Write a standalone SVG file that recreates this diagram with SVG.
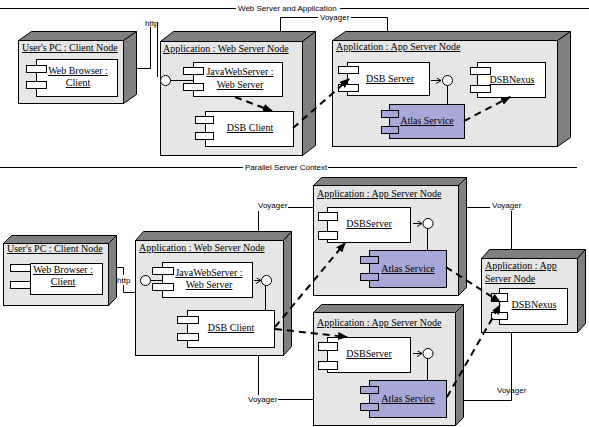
<svg xmlns="http://www.w3.org/2000/svg" width="589" height="427" viewBox="0 0 589 427">
<style>
.face{fill:#e6e6e6;stroke:#000;stroke-width:1}
.dk{fill:#808080;stroke:#000;stroke-width:1}
.cmp{fill:#fff;stroke:#000;stroke-width:1}
.atl{fill:#a8a8d8;stroke:#000;stroke-width:1}
.lbl{font-family:"Liberation Serif","Times New Roman",serif;font-size:10px;fill:#000;text-decoration:underline}
.sm{font-family:"Liberation Sans",Arial,sans-serif;font-size:8px;fill:#000}
.ln{fill:none;stroke:#000;stroke-width:1}
.dash{fill:none;stroke:#000;stroke-width:2;stroke-dasharray:7 5;marker-end:url(#ah)}
.dep{fill:none;stroke:#000;stroke-width:1;marker-end:url(#sa)}
.ifc{fill:#fff;stroke:#000;stroke-width:1}
</style>
<defs>
<marker id="ah" viewBox="0 0 10 8" refX="9" refY="4" markerWidth="10" markerHeight="8" markerUnits="userSpaceOnUse" orient="auto"><path d="M0,0 L10,4 L0,8 Z" fill="#000"/></marker>
<marker id="sa" viewBox="0 0 6 6" refX="5" refY="3" markerWidth="6" markerHeight="6" markerUnits="userSpaceOnUse" orient="auto"><path d="M0,0 L5,3 L0,6" fill="none" stroke="#000" stroke-width="1"/></marker>
</defs>
<rect width="589" height="427" fill="#fff"/>

<g id="frames">
<line class="ln" x1="0" y1="8.5" x2="236" y2="8.5"/>
<text class="sm" x="238" y="11">Web Server and Application</text>
<line class="ln" x1="340" y1="8.5" x2="589" y2="8.5"/>
<line class="ln" x1="0" y1="167.5" x2="243" y2="167.5"/>
<text class="sm" x="245" y="170">Parallel Server Context</text>
<line class="ln" x1="328" y1="167.5" x2="577" y2="167.5"/>
</g>

<!-- TOP SECTION -->
<g id="client1">
<polygon class="dk" points="18.5,40.5 31.5,31.5 136.5,31.5 123.5,40.5"/>
<polygon class="dk" points="123.5,40.5 136.5,31.5 136.5,94.5 123.5,103.5"/>
<rect class="face" x="18.5" y="40.5" width="105" height="63"/>
<text class="lbl" x="22" y="51">User's PC : Client Node</text>
<g id="browser1">
<rect class="cmp" x="36.5" y="59.5" width="81" height="37"/>
<rect class="cmp" x="26.5" y="65.5" width="20" height="7"/>
<rect class="cmp" x="26.5" y="81.5" width="20" height="7"/>
<text class="lbl" x="78" y="74" text-anchor="middle">Web Browser :</text>
<text class="lbl" x="78" y="86" text-anchor="middle">Client</text>
</g>
</g>

<g id="web1">
<polygon class="dk" points="160.5,41.5 173.5,31.5 315.5,31.5 302.5,41.5"/>
<polygon class="dk" points="302.5,41.5 315.5,31.5 315.5,145.5 302.5,155.5"/>
<rect class="face" x="160.5" y="41.5" width="142" height="114"/>
<text class="lbl" x="163" y="52">Application : Web Server Node</text>
<g id="jws1">
<line class="ln" x1="170" y1="80.5" x2="193" y2="80.5"/>
<circle class="ifc" cx="165.5" cy="80.5" r="5"/>
<rect class="cmp" x="193.5" y="62.5" width="89" height="34"/>
<rect class="cmp" x="183.5" y="67.5" width="20" height="7"/>
<rect class="cmp" x="183.5" y="83.5" width="20" height="7"/>
<text class="lbl" x="240" y="75" text-anchor="middle">JavaWebServer :</text>
<text class="lbl" x="240" y="88" text-anchor="middle">Web Server</text>
</g>
<g id="dsbclient1">
<rect class="cmp" x="205.5" y="111.5" width="88" height="35"/>
<rect class="cmp" x="195.5" y="116.5" width="18" height="7"/>
<rect class="cmp" x="195.5" y="132.5" width="18" height="7"/>
<text class="lbl" x="250" y="131" text-anchor="middle">DSB Client</text>
</g>
</g>

<g id="app1">
<polygon class="dk" points="332.5,40.5 345.5,31.5 570.5,31.5 557.5,40.5"/>
<polygon class="dk" points="557.5,40.5 570.5,31.5 570.5,137.5 557.5,146.5"/>
<rect class="face" x="332.5" y="40.5" width="225" height="106"/>
<text class="lbl" x="336" y="50">Application : App Server Node</text>
<g id="dsbserver1">
<rect class="cmp" x="347.5" y="62.5" width="82" height="33"/>
<rect class="cmp" x="338.5" y="66.5" width="20" height="7"/>
<rect class="cmp" x="338.5" y="84.5" width="20" height="7"/>
<text class="lbl" x="390" y="82" text-anchor="middle">DSB Server</text>
</g>
<line class="dep" x1="431" y1="80.5" x2="441" y2="80.5"/>
<line class="ln" x1="447.5" y1="85" x2="447.5" y2="104"/>
<circle class="ifc" cx="447.5" cy="80.5" r="5"/>
<g id="dsbnexus1">
<rect class="cmp" x="477.5" y="62.5" width="68" height="35"/>
<rect class="cmp" x="470.5" y="67.5" width="20" height="7"/>
<rect class="cmp" x="470.5" y="85.5" width="20" height="7"/>
<text class="lbl" x="512" y="83" text-anchor="middle">DSBNexus</text>
</g>
<g id="atlas1">
<rect class="atl" x="389.5" y="104.5" width="75" height="34"/>
<rect class="atl" x="381.5" y="110.5" width="17" height="7"/>
<rect class="atl" x="381.5" y="126.5" width="17" height="7"/>
<text class="lbl" x="427" y="124" text-anchor="middle">Atlas Service</text>
</g>
</g>

<!-- BOTTOM SECTION -->
<g id="client2">
<polygon class="dk" points="3.5,243.5 11.5,235.5 116.5,235.5 108.5,243.5"/>
<polygon class="dk" points="108.5,243.5 116.5,235.5 116.5,297.5 108.5,305.5"/>
<rect class="face" x="3.5" y="243.5" width="105" height="62"/>
<text class="lbl" x="7" y="252">User's PC : Client Node</text>
<g id="browser2">
<rect class="cmp" x="30.5" y="263.5" width="72" height="31"/>
<rect class="cmp" x="10.5" y="264.5" width="20" height="7"/>
<rect class="cmp" x="10.5" y="281.5" width="20" height="7"/>
<text class="lbl" x="63" y="273" text-anchor="middle">Web Browser :</text>
<text class="lbl" x="63" y="285" text-anchor="middle">Client</text>
</g>
</g>

<g id="web2">
<polygon class="dk" points="135.5,240.5 143.5,231.5 291.5,231.5 283.5,240.5"/>
<polygon class="dk" points="283.5,240.5 291.5,231.5 291.5,346.5 283.5,355.5"/>
<rect class="face" x="135.5" y="240.5" width="148" height="115"/>
<text class="lbl" x="139" y="251">Application : Web Server Node</text>
<g id="jws2">
<line class="ln" x1="150" y1="280.5" x2="162" y2="280.5"/>
<circle class="ifc" cx="145.5" cy="280.5" r="5"/>
<rect class="cmp" x="162.5" y="262.5" width="90" height="35"/>
<rect class="cmp" x="152.5" y="267.5" width="21" height="7"/>
<rect class="cmp" x="152.5" y="283.5" width="21" height="7"/>
<text class="lbl" x="209" y="276" text-anchor="middle">JavaWebServer :</text>
<text class="lbl" x="209" y="288" text-anchor="middle">Web Server</text>
</g>
<line class="dep" x1="254" y1="280.5" x2="261" y2="280.5"/>
<line class="ln" x1="265.5" y1="285" x2="265.5" y2="310"/>
<circle class="ifc" cx="266.5" cy="280.5" r="5"/>
<g id="dsbclient2">
<rect class="cmp" x="187.5" y="310.5" width="87" height="37"/>
<rect class="cmp" x="177.5" y="316.5" width="21" height="7"/>
<rect class="cmp" x="177.5" y="333.5" width="21" height="7"/>
<text class="lbl" x="231" y="331" text-anchor="middle">DSB Client</text>
</g>
</g>

<g id="app2">
<polygon class="dk" points="313.5,185.5 321.5,177.5 466.5,177.5 458.5,185.5"/>
<polygon class="dk" points="458.5,185.5 466.5,177.5 466.5,287.5 458.5,295.5"/>
<rect class="face" x="313.5" y="185.5" width="145" height="110"/>
<text class="lbl" x="317" y="197">Application : App Server Node</text>
<g id="dsbserver2">
<rect class="cmp" x="327.5" y="207.5" width="83" height="35"/>
<rect class="cmp" x="318.5" y="212.5" width="19" height="8"/>
<rect class="cmp" x="318.5" y="231.5" width="19" height="8"/>
<text class="lbl" x="369" y="227" text-anchor="middle">DSBServer</text>
</g>
<line class="dep" x1="413" y1="223.5" x2="422" y2="223.5"/>
<line class="ln" x1="427.5" y1="228" x2="427.5" y2="250"/>
<circle class="ifc" cx="428" cy="223.5" r="5"/>
<g id="atlas2">
<rect class="atl" x="369.5" y="250.5" width="77" height="37"/>
<rect class="atl" x="360.5" y="256.5" width="18" height="7"/>
<rect class="atl" x="360.5" y="273.5" width="18" height="7"/>
<text class="lbl" x="408" y="272" text-anchor="middle">Atlas Service</text>
</g>
</g>

<g id="app3">
<polygon class="dk" points="313.5,312.5 321.5,304.5 463.5,304.5 455.5,312.5"/>
<polygon class="dk" points="455.5,312.5 463.5,304.5 463.5,417.5 455.5,425.5"/>
<rect class="face" x="313.5" y="312.5" width="142" height="113"/>
<text class="lbl" x="317" y="326">Application : App Server Node</text>
<g id="dsbserver3">
<rect class="cmp" x="327.5" y="337.5" width="83" height="35"/>
<rect class="cmp" x="318.5" y="342.5" width="19" height="8"/>
<rect class="cmp" x="318.5" y="361.5" width="19" height="8"/>
<text class="lbl" x="369" y="357" text-anchor="middle">DSBServer</text>
</g>
<line class="dep" x1="413" y1="353.5" x2="422" y2="353.5"/>
<line class="ln" x1="427.5" y1="358" x2="427.5" y2="380"/>
<circle class="ifc" cx="428" cy="353.5" r="5"/>
<g id="atlas3">
<rect class="atl" x="369.5" y="380.5" width="77" height="37"/>
<rect class="atl" x="360.5" y="386.5" width="18" height="7"/>
<rect class="atl" x="360.5" y="403.5" width="18" height="7"/>
<text class="lbl" x="408" y="402" text-anchor="middle">Atlas Service</text>
</g>
</g>

<g id="app4">
<polygon class="dk" points="481.5,258.5 489.5,249.5 585.5,249.5 577.5,258.5"/>
<polygon class="dk" points="577.5,258.5 585.5,249.5 585.5,323.5 577.5,332.5"/>
<rect class="face" x="481.5" y="258.5" width="96" height="74"/>
<text class="lbl" x="485" y="269">Application : App</text>
<text class="lbl" x="485" y="282">Server Node</text>
<g id="dsbnexus2">
<rect class="cmp" x="499.5" y="288.5" width="68" height="36"/>
<rect class="cmp" x="491.5" y="293.5" width="16" height="8"/>
<rect class="cmp" x="491.5" y="312.5" width="16" height="7"/>
<text class="lbl" x="534" y="308" text-anchor="middle">DSBNexus</text>
</g>
</g>

<g id="connectors">
<!-- top -->
<polyline class="ln" points="136,68.5 150.5,68.5 150.5,27"/>
<line class="ln" x1="157.5" y1="22" x2="157.5" y2="77"/>
<text class="sm" x="145" y="26">http</text>
<polyline class="ln" points="280.5,31 280.5,17.5 318,17.5"/>
<text class="sm" x="320" y="20">Voyager</text>
<polyline class="ln" points="351,17.5 387.5,17.5 387.5,31"/>
<line class="dash" x1="235" y1="97" x2="272" y2="111"/>
<line class="dash" x1="293" y1="128" x2="349" y2="79"/>
<line class="dash" x1="464" y1="121" x2="510" y2="97"/>
<!-- bottom -->
<polyline class="ln" points="116,267.5 123.5,267.5 123.5,275"/>
<polyline class="ln" points="123.5,285 123.5,292.5 135,292.5"/>
<text class="sm" x="117" y="283">http</text>
<line class="ln" x1="258.5" y1="211" x2="258.5" y2="231"/>
<text class="sm" x="258" y="208">Voyager</text>
<line class="ln" x1="288" y1="207.5" x2="313" y2="207.5"/>
<line class="ln" x1="466" y1="207.5" x2="490" y2="207.5"/>
<text class="sm" x="492" y="208">Voyager</text>
<line class="ln" x1="511.5" y1="211" x2="511.5" y2="249"/>
<line class="ln" x1="258.5" y1="355" x2="258.5" y2="395"/>
<text class="sm" x="248" y="402">Voyager</text>
<line class="ln" x1="278" y1="399.5" x2="313" y2="399.5"/>
<line class="ln" x1="463" y1="400.5" x2="511.5" y2="400.5"/>
<line class="ln" x1="511.5" y1="332" x2="511.5" y2="400.5"/>
<text class="sm" x="497" y="393">Voyager</text>
<line class="dash" x1="275" y1="327" x2="345" y2="243"/>
<line class="dash" x1="275" y1="329" x2="347" y2="337"/>
<line class="dash" x1="446" y1="267" x2="500" y2="302"/>
<line class="dash" x1="447" y1="397" x2="500" y2="305"/>
</g>
</svg>
